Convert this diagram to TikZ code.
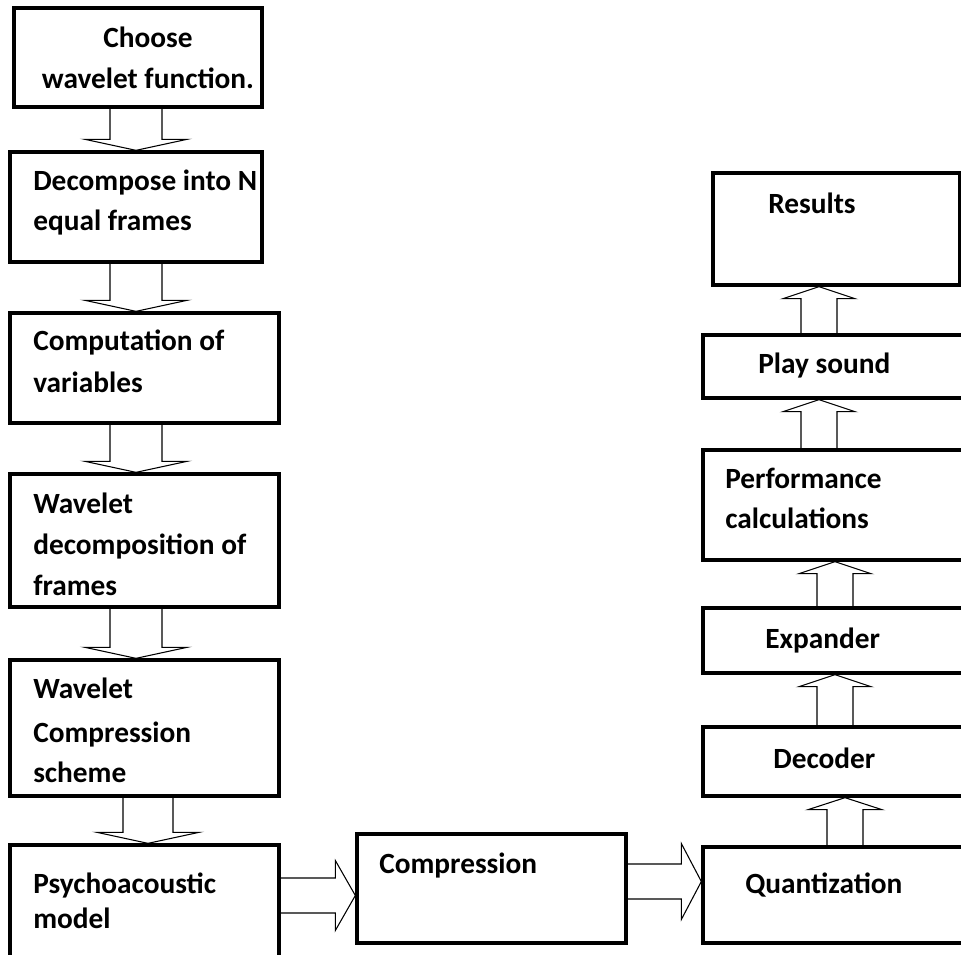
\documentclass[tikz,border=0pt]{standalone}
\usepackage{fontspec}
\setmainfont{Carlito}
\usetikzlibrary{calc,fit}

\tikzset{
  box/.style={draw, line width=2.5pt, inner sep=0pt},
  txt/.style={font=\bfseries\fontsize{22}{30}\selectfont, align=left, inner sep=0pt, anchor=base west},
  hollow/.style={draw, line width=0.8pt, line join=miter}
}

% block arrows: from, to, centre, half shaft, half head
\newcommand{\arrdown}[5]{%
  \draw[hollow] ($(#1.south -| #3,0)+(-#4,0)$) -- ($(#2.north -| #3,0)+(-#4,-11)$)
    -- ($(#2.north -| #3,0)+(-#5,-11)$) -- (#2.north -| #3,0)
    -- ($(#2.north -| #3,0)+(#5,-11)$) -- ($(#2.north -| #3,0)+(#4,-11)$)
    -- ($(#1.south -| #3,0)+(#4,0)$);}
\newcommand{\arrup}[5]{%
  \draw[hollow] ($(#1.north -| #3,0)+(-#4,0)$) -- ($(#2.south -| #3,0)+(-#4,12)$)
    -- ($(#2.south -| #3,0)+(-#5,12)$) -- (#2.south -| #3,0)
    -- ($(#2.south -| #3,0)+(#5,12)$) -- ($(#2.south -| #3,0)+(#4,12)$)
    -- ($(#1.north -| #3,0)+(#4,0)$);}
\newcommand{\arrright}[5]{%
  \draw[hollow] ($(#1.east |- 0,#3)+(0,-#4)$) -- ($(#2.west |- 0,#3)+(-20,-#4)$)
    -- ($(#2.west |- 0,#3)+(-20,-#5)$) -- (#2.west |- 0,#3)
    -- ($(#2.west |- 0,#3)+(-20,#5)$) -- ($(#2.west |- 0,#3)+(-20,#4)$)
    -- ($(#1.east |- 0,#3)+(0,#4)$);}

\begin{document}
\begin{tikzpicture}[x=0.75pt, y=-0.75pt]
    \useasboundingbox (0,0) rectangle (961,954);

    % Left column
    \node[box, fit={(14,8) (262,107)}] (choose) {};
    \node[box, fit={(10,152) (262,262)}] (frames) {};
    \node[box, fit={(10,313) (279,423)}] (vars) {};
    \node[box, fit={(10,474) (279,607)}] (decomp) {};
    \node[box, fit={(10,660) (279,796)}] (scheme) {};
    \node[box, fit={(10,845) (279,975)}] (psycho) {};

    % Bottom row
    \node[box, fit={(357,834) (626,943)}] (compr) {};
    \node[box, fit={(703,847) (975,943)}] (quant) {};

    % Right column
    \node[box, fit={(703,727) (975,796)}] (decoder) {};
    \node[box, fit={(703,608) (975,673)}] (expander) {};
    \node[box, fit={(703,450) (975,560)}] (perf) {};
    \node[box, fit={(703,335) (975,398)}] (play) {};
    \node[box, fit={(713,173) (960,285)}] (results) {};

    % Texts (anchored at the last line)
    \node[txt, align=center, anchor=base] (t1) at (148,88) {Choose\\[0.75pt]wavelet function.};
    \node[txt] (t2) at (33,230) {Decompose into N\\equal frames};
    \node[txt] (t3) at (33,392) {Computation of\\[1.5pt]variables};
    \node[txt] (t4) at (33,595) {Wavelet\\[0.75pt]decomposition of\\[0.75pt]frames};
    \node[txt] (t5) at (33,782) {Wavelet\\[3pt]Compression\\[0pt]scheme};
    \node[txt] (t6) at (33,928) {Psychoacoustic\\[-3.75pt]model};
    \node[txt] (t7) at (379,873) {Compression};
    \node[txt] (t8) at (745,893) {Quantization};
    \node[txt] (t9) at (773,768) {Decoder};
    \node[txt] (t10) at (765,648) {Expander};
    \node[txt] (t11) at (725,528) {Performance\\calculations};
    \node[txt] (t12) at (758,373) {Play sound};
    \node[txt] (t13) at (768,213) {Results};

    % Arrows down the left column
    \arrdown{choose}{frames}{136}{26}{51}
    \arrdown{frames}{vars}{136}{26}{51}
    \arrdown{vars}{decomp}{136}{26}{51}
    \arrdown{decomp}{scheme}{136}{26}{51}
    \arrdown{scheme}{psycho}{148}{25}{51}

    % Arrows along the bottom
    \arrright{psycho}{compr}{895.5}{17.5}{35}
    \arrright{compr}{quant}{881.5}{17.5}{38}

    % Arrows up the right column
    \arrup{quant}{decoder}{845}{18}{37}
    \arrup{decoder}{expander}{835}{18}{36}
    \arrup{expander}{perf}{835}{18}{36}
    \arrup{perf}{play}{819}{18}{36}
    \arrup{play}{results}{819}{18}{36}
\end{tikzpicture}
\end{document}
